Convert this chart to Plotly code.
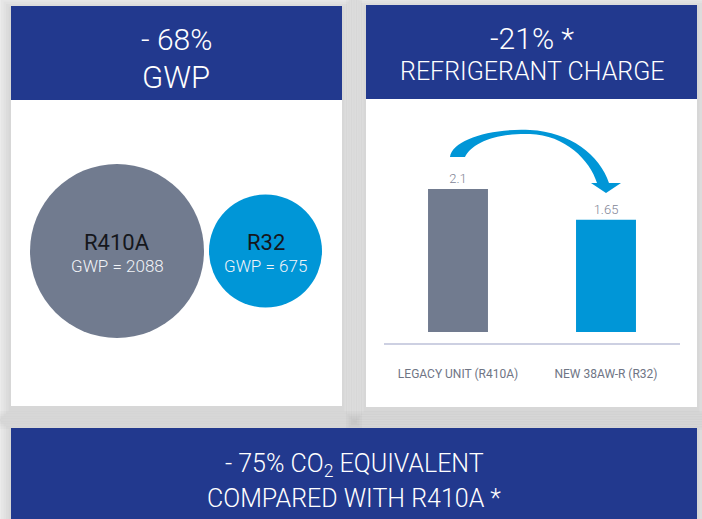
import plotly.graph_objects as go

# ---------------- data ----------------
refrigerants = ["R410A", "R32"]
gwp_values = [2088, 675]
units = ["LEGACY UNIT (R410A)", "NEW 38AW-R (R32)"]
charge_values = [2.1, 1.65]
gwp_headline = ["- 68%", "GWP"]
charge_headline = ["-21% *", "REFRIGERANT CHARGE"]
footer_lines = ["- 75% CO<sub>2</sub> EQUIVALENT", "COMPARED WITH R410A *"]

# ---------------- style ----------------
W, H = 702, 519
NAVY = "#22398E"
GRAY = "#717B8F"
BLUE = "#0096D7"
FONT = "Roboto"


def px(x):
    return x / W


def py(y):
    return 1 - y / H


fig = go.Figure()

# bubbles (GWP)
fig.add_trace(go.Scatter(
    x=refrigerants, y=[0] * len(refrigerants), mode="markers",
    marker=dict(size=[174, 113], color=[GRAY, BLUE], line=dict(width=0), opacity=1),
    xaxis="x3", yaxis="y3", hoverinfo="skip", showlegend=False, cliponaxis=False,
))

# bars (refrigerant charge)
fig.add_trace(go.Bar(
    x=units, y=charge_values, marker=dict(color=[GRAY, BLUE], line=dict(width=0)),
    width=0.405, texttemplate="%{y}", textposition="outside",
    textfont=dict(family=FONT, size=13, color="#7F8596", weight=300), cliponaxis=False,
    xaxis="x2", yaxis="y2", hoverinfo="skip", showlegend=False,
))

shapes = []
# shadows
cards = [(11, 6, 342, 406), (366, 5, 697, 407), (11, 428, 697, 530)]
for (x0, y0, x1, y1) in cards:
    for k in range(1, 9):
        e = 2.5 * k
        shapes.append(dict(type="rect", xref="paper", yref="paper",
                           x0=px(x0 - e), x1=px(x1 + e), y0=py(y1 + e + 3), y1=py(y0 - e + 3),
                           fillcolor="rgba(0,0,0,0.018)", line=dict(width=0), layer="below"))
# cards
for (x0, y0, x1, y1) in cards[:2]:
    shapes.append(dict(type="rect", xref="paper", yref="paper",
                       x0=px(x0), x1=px(x1), y0=py(y1), y1=py(y0),
                       fillcolor="white", line=dict(width=0), layer="below"))
# headers
shapes.append(dict(type="rect", xref="paper", yref="paper", x0=px(11), x1=px(342),
                   y0=py(100), y1=py(6), fillcolor=NAVY, line=dict(width=0), layer="below"))
shapes.append(dict(type="rect", xref="paper", yref="paper", x0=px(366), x1=px(697),
                   y0=py(99), y1=py(5), fillcolor=NAVY, line=dict(width=0), layer="below"))
shapes.append(dict(type="rect", xref="paper", yref="paper", x0=px(11), x1=px(697),
                   y0=py(530), y1=py(428), fillcolor=NAVY, line=dict(width=0), layer="below"))

# curved arrow
pts_path = [
    ("M", [(450, 157)]),
    ("C", [(452, 140), (490, 128), (530, 130)]),
    ("C", [(570, 132), (600, 155), (609, 183)]),
    ("L", [(621, 183)]),
    ("L", [(606, 193)]),
    ("L", [(591, 183)]),
    ("L", [(597, 183)]),
    ("C", [(590, 160), (565, 135), (530, 134)]),
    ("C", [(495, 133), (472, 143), (465, 157)]),
]
path = ""
for cmd, pts in pts_path:
    path += cmd + " " + " ".join(f"{px(x):.5f},{py(y):.5f}" for x, y in pts) + " "
path += "Z"
shapes.append(dict(type="path", xref="paper", yref="paper", path=path,
                   fillcolor=BLUE, line=dict(width=0), layer="above"))

annotations = []


def label(text, x, y, size, color="white"):
    annotations.append(dict(text=text, x=px(x), y=py(y), xref="paper", yref="paper",
                            showarrow=False, xanchor="center", yanchor="middle",
                            font=dict(family=FONT, size=size, color=color, weight=300)))


label(gwp_headline[0], 176.5, 39, 30)
label(gwp_headline[1], 176.5, 77, 31)
label(charge_headline[0], 531.5, 38, 30)
label(charge_headline[1], 531.5, 71, 25)
label(footer_lines[0], 354, 465, 25)
label(footer_lines[1], 354, 498, 25)

for name, g in zip(refrigerants, gwp_values):
    annotations.append(dict(text=name, x=name, y=0, xref="x3", yref="y3", showarrow=False,
                            yshift=9, font=dict(family=FONT, size=22, color="#15171C", weight=400)))
    annotations.append(dict(text=f"GWP = {g}", x=name, y=0, xref="x3", yref="y3",
                            showarrow=False, yshift=-15,
                            font=dict(family=FONT, size=17, color="#F2F4F8", weight=300)))

fig.update_layout(
    width=W, height=H, margin=dict(l=0, r=0, t=0, b=0),
    paper_bgcolor="white", plot_bgcolor="rgba(0,0,0,0)",
    shapes=shapes, annotations=annotations, showlegend=False,
    xaxis2=dict(domain=[px(384), px(680)], range=[-0.5, 1.5], anchor="y2",
                showline=True, linecolor="#CDD0E2", linewidth=2, ticks="",
                showgrid=False, zeroline=False, ticklabelstandoff=19,
                tickfont=dict(family=FONT, size=12, color="#6F7585", weight=400)),
    yaxis2=dict(domain=[py(343), py(150)], range=[-0.1615, 2.6725], anchor="x2",
                visible=False, showgrid=False, zeroline=False),
    xaxis3=dict(domain=[px(42.75), px(339.75)], range=[-0.5, 1.5], anchor="y3",
                visible=False, showgrid=False, zeroline=False),
    yaxis3=dict(domain=[py(400), py(102)], range=[-1, 1], anchor="x3",
                visible=False, showgrid=False, zeroline=False),
    xaxis=dict(visible=False), yaxis=dict(visible=False),
)

fig.write_html("out.html", config={"displayModeBar": False},
               post_script="document.body.style.margin='0';document.body.style.overflow='hidden';")
